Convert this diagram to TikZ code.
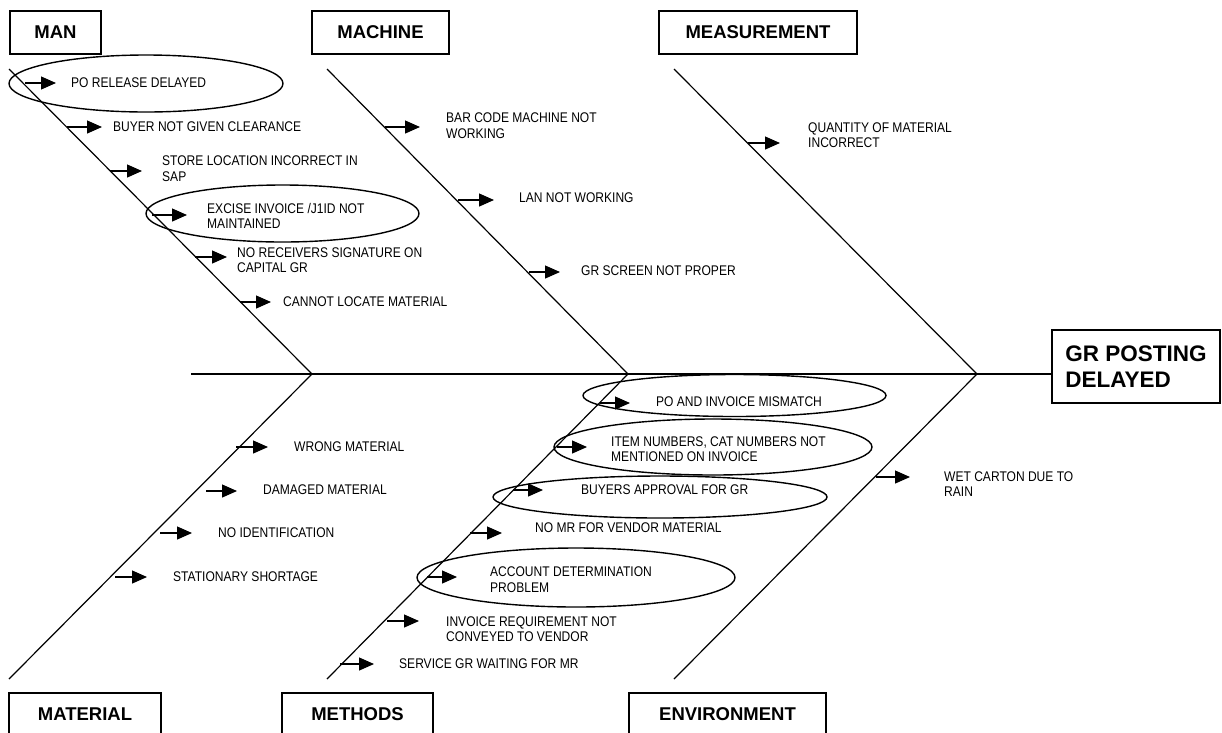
\documentclass[tikz,border=0pt]{standalone}
\usepackage{fontspec}
\setmainfont{Liberation Sans}
\newfontfamily\causefont[FakeStretch=0.86]{Liberation Sans}
\usetikzlibrary{arrows.meta,calc}

\tikzset{
  bone/.style={line width=1.2pt},
  catbox/.style={draw, line width=1.4pt, minimum height=43pt, inner sep=0pt,
    font=\fontsize{18.5}{22}\selectfont\bfseries},
  effectbox/.style={draw, line width=1.4pt, minimum width=168pt, minimum height=73pt,
    inner sep=0pt, align=left, font=\fontsize{22.5}{26}\selectfont\bfseries},
  causetext/.style={anchor=west, inner sep=0pt, align=left,
    font=\causefont\fontsize{14}{15.5}\selectfont},
  causearrow/.style={line width=1.2pt, -{Triangle[length=15pt,width=13pt]}},
  ring/.style={line width=1.4pt},
}

% #1 name, #2 start x, #3 tip x, #4 arrow y, #5 label x, #6 label y, #7 text
\newcommand\causeitem[7]{%
  \coordinate (#1s) at (#2,#4);
  \coordinate (#1t) at (#3,#4);
  \node[causetext] (#1) at (#5,#6) {#7};
  \draw[causearrow] (#1s) -- (#1t);
}

\begin{document}
\begin{tikzpicture}[x=1pt,y=-1pt]
\useasboundingbox (0,0) rectangle (1222,732);
\clip (0,0) rectangle (1222,732);

% category boxes
\node[catbox, minimum width=91pt]  (man)  at (55.5,32.5)  {MAN};
\node[catbox, minimum width=137pt] (mac)  at (380.5,32.5) {MACHINE};
\node[catbox, minimum width=198pt] (mea)  at (758,32.5)   {MEASUREMENT};
\node[catbox, minimum width=152pt] (mat)  at (85,714.5)   {MATERIAL};
\node[catbox, minimum width=151pt] (meth) at (357.5,714.5) {METHODS};
\node[catbox, minimum width=197pt] (env)  at (727.5,714.5) {ENVIRONMENT};

% effect box
\node[effectbox] (effect) at (1136,366.5) {GR POSTING\\DELAYED};

% skeleton
\coordinate (manTop)  at (9,69);
\coordinate (macTop)  at (327,69);
\coordinate (meaTop)  at (674,69);
\coordinate (matBot)  at (9,679);
\coordinate (methBot) at (327,679);
\coordinate (envBot)  at (674,679);
\coordinate (j1) at (312,374);
\coordinate (j2) at (628,374);
\coordinate (j3) at (977,374);
\coordinate (tail) at (191,374);

\draw[bone] (tail) -- (effect.west |- j3);
\draw[bone] (manTop) -- (j1) -- (matBot);
\draw[bone] (macTop) -- (j2) -- (methBot);
\draw[bone] (meaTop) -- (j3) -- (envBot);

% MAN
\causeitem{m1}{25}{56}{83}{71}{83}{PO RELEASE DELAYED}
\causeitem{m2}{67}{102}{127}{113}{127}{BUYER NOT GIVEN CLEARANCE}
\causeitem{m3}{110}{142}{171}{162}{168.5}{STORE LOCATION INCORRECT IN\\SAP}
\causeitem{m4}{152}{187}{215}{207}{216}{EXCISE INVOICE /J1ID NOT\\MAINTAINED}
\causeitem{m5}{195}{227}{257}{237}{260}{NO RECEIVERS SIGNATURE ON\\CAPITAL GR}
\causeitem{m6}{240}{271}{302}{283}{302}{CANNOT LOCATE MATERIAL}

% MACHINE
\causeitem{c1}{385}{420}{127}{446}{125.5}{BAR CODE MACHINE NOT\\WORKING}
\causeitem{c2}{458}{494}{200}{519}{198}{LAN NOT WORKING}
\causeitem{c3}{529}{560}{272}{581}{271}{GR SCREEN NOT PROPER}

% MEASUREMENT
\causeitem{q1}{748}{780}{143}{808}{135}{QUANTITY OF MATERIAL\\INCORRECT}

% MATERIAL
\causeitem{t1}{236}{268}{447}{294}{447}{WRONG MATERIAL}
\causeitem{t2}{206}{237}{491}{263}{490}{DAMAGED MATERIAL}
\causeitem{t3}{160}{192}{533}{218}{533}{NO IDENTIFICATION}
\causeitem{t4}{115}{147}{577}{173}{577}{STATIONARY SHORTAGE}

% METHODS
\causeitem{h1}{600}{630}{403}{656}{402}{PO AND INVOICE MISMATCH}
\causeitem{h2}{557}{587}{447}{611}{449}{ITEM NUMBERS, CAT NUMBERS NOT\\MENTIONED ON INVOICE}
\causeitem{h3}{513}{543}{490}{581}{490}{BUYERS APPROVAL FOR GR}
\causeitem{h4}{470}{502}{533}{535}{528}{NO MR FOR VENDOR MATERIAL}
\causeitem{h5}{427}{457}{577}{490}{579.5}{ACCOUNT DETERMINATION\\PROBLEM}
\causeitem{h6}{387}{419}{621}{446}{629}{INVOICE REQUIREMENT NOT\\CONVEYED TO VENDOR}
\causeitem{h7}{340}{374}{664}{399}{664}{SERVICE GR WAITING FOR MR}

% ENVIRONMENT
\causeitem{e1}{876}{910}{477}{944}{484}{WET CARTON DUE TO\\RAIN}

% highlighted causes
\draw[ring] (146,83.5)  ellipse [x radius=137,   y radius=28.5];
\draw[ring] (282.5,213.5) ellipse [x radius=136.5, y radius=28.5];
\draw[ring] (734.5,395.5) ellipse [x radius=151.5, y radius=21];
\draw[ring] (713,447)   ellipse [x radius=159,   y radius=28];
\draw[ring] (660,497)   ellipse [x radius=167,   y radius=21];
\draw[ring] (576,577.5) ellipse [x radius=159,   y radius=29.5];
\end{tikzpicture}
\end{document}
